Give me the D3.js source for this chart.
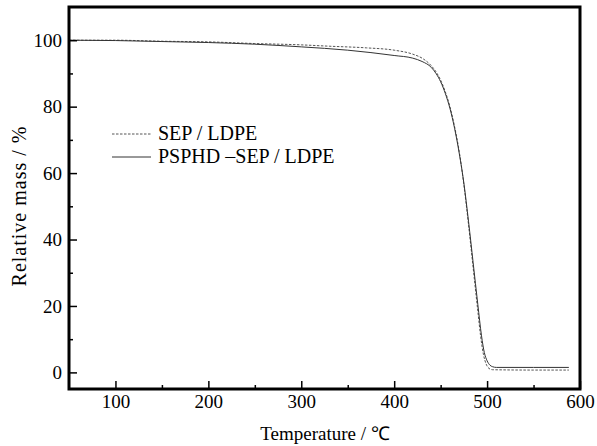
<!DOCTYPE html>
<html><head><meta charset="utf-8">
<script src="https://cdn.jsdelivr.net/npm/d3@7"></script>
<style>body{margin:0;background:#fff}svg{display:block}text{font-family:"Liberation Serif","Times New Roman",serif;fill:#000}</style>
</head><body><svg id="c" width="597" height="446"></svg>
<script>
const xTicks = [100, 200, 300, 400, 500, 600];
const xMinor = [150, 250, 350, 450, 550];
const yTicks = [0, 20, 40, 60, 80, 100];
const yMinor = [10, 30, 50, 70, 90];
const seriesNames = ["SEP / LDPE", "PSPHD \u2013SEP / LDPE"];
// SEP/LDPE (dashed)
const sepT = [50,100,150,200,250,300,330,370,400,420,430,440,445,450,455,460,465,470,475,480,485,490,493,496,499,502,506,550,588];
const sepV = [100,100,99.7,99.5,99.0,98.6,98.2,97.7,97.0,95.8,94.6,92.3,90.5,88,84.5,80,74,66.5,56.5,44.5,31.5,18.5,11,5.5,2.5,1.2,0.8,0.7,0.7];
// PSPHD-SEP/LDPE (solid)
const psT = [50,100,150,200,250,300,350,400,420,430,440,445,450,455,460,465,470,475,480,485,490,494,497,500,503,506,510,550,588];
const psV = [100,99.9,99.6,99.3,98.8,98.0,97.0,95.4,94.6,93.6,91.8,90,87.5,84,79.5,73.5,66,57,45.5,33,20.5,11,6,3.5,2.2,1.7,1.5,1.5,1.5];

const svg = d3.select("#c");
const L = 69, R = 580, T = 7, B = 389;
const x = d3.scaleLinear().domain([50, 600]).range([L, R]);
const y = d3.scaleLinear().domain([-5, 110]).range([B, T]);

const line = d3.line().x(d => x(d[0])).y(d => y(d[1])).curve(d3.curveMonotoneX);
const sepData = sepT.map((t, i) => [t, sepV[i]]);
const psData = psT.map((t, i) => [t, psV[i]]);

svg.append("path").datum(sepData).attr("d", line).attr("fill", "none")
  .attr("stroke", "#555").attr("stroke-width", 1).attr("stroke-dasharray", "2.5,1.5");
svg.append("path").datum(psData).attr("d", line).attr("fill", "none")
  .attr("stroke", "#333").attr("stroke-width", 1);

// axes
const fs = 19;
const gx = svg.append("g").attr("transform", `translate(0,${B})`)
  .call(d3.axisBottom(x).tickValues(xTicks).tickSizeInner(-8).tickSizeOuter(0).tickPadding(6).tickFormat(d3.format("d")));
const gxm = svg.append("g").attr("transform", `translate(0,${B})`)
  .call(d3.axisBottom(x).tickValues(xMinor).tickSizeInner(-4).tickSizeOuter(0).tickFormat(""));
const gy = svg.append("g").attr("transform", `translate(${L},0)`)
  .call(d3.axisLeft(y).tickValues(yTicks).tickSizeInner(-8).tickSizeOuter(0).tickPadding(7).tickFormat(d3.format("d")));
const gym = svg.append("g").attr("transform", `translate(${L},0)`)
  .call(d3.axisLeft(y).tickValues(yMinor).tickSizeInner(-4).tickSizeOuter(0).tickFormat(""));
[gx, gxm, gy, gym].forEach(g => {
  g.select(".domain").remove();
  g.selectAll(".tick line").attr("stroke", "#000").attr("stroke-width", 1.5);
  g.selectAll("text").attr("font-size", fs).attr("font-family", "Liberation Serif").attr("fill", "#000");
});

// frame
svg.append("rect").attr("x", L).attr("y", T).attr("width", R - L).attr("height", B - T)
  .attr("fill", "none").attr("stroke", "#000").attr("stroke-width", 3);

// axis titles
svg.append("text").attr("x", 325).attr("y", 440).attr("text-anchor", "middle")
  .attr("font-size", fs).text("Temperature / \u2103");
svg.append("text").attr("transform", "translate(26,206) rotate(-90)").attr("text-anchor", "middle")
  .attr("font-size", 20).attr("letter-spacing", "1px").text("Relative mass / %");

// legend
const lg = svg.append("g");
seriesNames.forEach((n, i) => {
  const yy = 134 + i * 23;
  lg.append("line").attr("x1", 112).attr("x2", 151).attr("y1", yy).attr("y2", yy)
    .attr("stroke", i === 0 ? "#555" : "#333").attr("stroke-width", 1)
    .attr("stroke-dasharray", i === 0 ? "2.5,1.5" : null);
  lg.append("text").attr("x", 158).attr("y", yy + 6).attr("font-size", 20).text(n);
});
</script></body></html>
